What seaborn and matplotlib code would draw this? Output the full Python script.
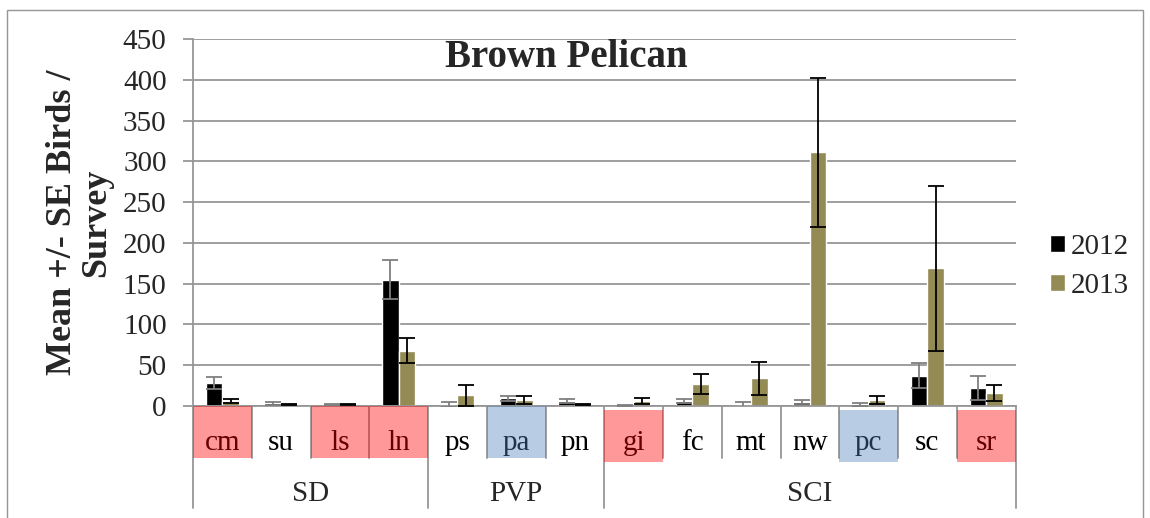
import matplotlib
matplotlib.use("Agg")
import matplotlib.pyplot as plt
import matplotlib.transforms as mtransforms
from matplotlib.patches import Rectangle
import seaborn as sns
import pandas as pd

# ---------------- data ----------------
sites = ['cm', 'su', 'ls', 'ln', 'ps', 'pa', 'pn', 'gi', 'fc', 'mt', 'nw', 'pc', 'sc', 'sr']
groups = ['SD', 'PVP', 'SCI']
group_sizes = [4, 3, 7]
years = ['2012', '2013']
mean_2012 = [28, 3.5, 2, 155, 1.6, 9.5, 6, 0.5, 6, 1.5, 5, 2, 37, 22]
se_2012 = [7, 2, 1, 24, 3, 3, 2, 0.3, 2.5, 3.5, 2, 1.5, 15.5, 15]
mean_2013 = [6, 1.5, 1.5, 68, 13, 7.5, 1.5, 6, 27, 34, 311, 7, 169, 16]
se_2013 = [2, 0.5, 0.5, 15, 13, 5, 0.5, 3.5, 12, 20, 91, 5, 101, 10]
highlight = {'cm': 'red', 'ls': 'red', 'ln': 'red', 'gi': 'red', 'sr': 'red',
             'pa': 'blue', 'pc': 'blue'}
title = 'Brown Pelican'
ylabel = 'Mean +/- SE Birds /\nSurvey'

# ---------------- style ----------------
sns.set_style('white')
plt.rcParams['font.family'] = ['Liberation Serif', 'DejaVu Serif']

BLACK = '#000000'
OLIVE = '#948A54'
GRID = '#969696'
box_colors = {'red': '#FF0000', 'blue': '#4F81BD'}

df = pd.DataFrame({
    'site': sites * 2,
    'year': [years[0]] * len(sites) + [years[1]] * len(sites),
    'mean': mean_2012 + mean_2013,
})

W, H = 1150, 518
fig = plt.figure(figsize=(W / 100, H / 100), dpi=100)
ax = fig.add_axes([193 / W, 1 - 406 / H, (1015.5 - 193) / W, (406 - 39) / H])

sns.barplot(data=df, x='site', y='mean', hue='year', order=sites, hue_order=years,
            palette=[BLACK, OLIVE], saturation=1, width=0.56, errorbar=None,
            ax=ax, zorder=2)

# error bars
for cont, se, ecol in zip(ax.containers, [se_2012, se_2013], ['#7F7F7F', BLACK]):
    xs = [b.get_x() + b.get_width() / 2 for b in cont]
    ys = [b.get_height() for b in cont]
    ax.errorbar(xs, ys, yerr=se, fmt='none', ecolor=ecol, elinewidth=1.3,
                capsize=5.5, capthick=1.3, zorder=3)

ax.set_xlim(-0.5, len(sites) - 0.5)
ax.set_ylim(0, 450)
ax.set_yticks(range(0, 451, 50))
ax.set_xlabel('')
ax.set_ylabel('')
ax.set_xticks([])
ax.yaxis.grid(True, color=GRID, lw=1.3)
ax.set_axisbelow(True)
for s in ['top', 'right']:
    ax.spines[s].set_visible(False)
for s in ['left', 'bottom']:
    ax.spines[s].set_color(GRID)
    ax.spines[s].set_linewidth(1.3)
ax.tick_params(axis='y', direction='out', length=7, width=1.3, color=GRID,
               pad=12, labelsize=21, left=True)

# category / group labels below axis
trans = mtransforms.blended_transform_factory(ax.transData, ax.transAxes)
axh = 406 - 39
for i, s in enumerate(sites):
    ax.text(i, -(450 - 406) / axh, s, transform=trans, ha='center', va='baseline',
            fontsize=21, color='black', clip_on=False, zorder=3)
    if s in highlight:
        dy = 0.0 if i < 7 else -4 / axh
        ax.add_patch(Rectangle((i - 0.5, dy), 1, -52 / axh, transform=trans,
                               facecolor=box_colors[highlight[s]], alpha=0.4,
                               edgecolor='none', clip_on=False, zorder=5))

bounds = [0]
for g in group_sizes:
    bounds.append(bounds[-1] + g)
for b in range(len(sites) + 1):
    depth = (508 - 406) / axh if b in bounds else (458 - 406) / axh
    ax.plot([b - 0.5, b - 0.5], [0, -depth], transform=trans, color=GRID, lw=1.3,
            clip_on=False, zorder=1)
for g, a, b in zip(groups, bounds[:-1], bounds[1:]):
    ax.text((a + b - 1) / 2, -(501 - 406) / axh, g, transform=trans, ha='center',
            va='baseline', fontsize=21, clip_on=False)

# legend
handles, labels = ax.get_legend_handles_labels()
ax.legend(handles, labels, loc='center left', bbox_to_anchor=(1050 / W, 1 - 266.5 / H),
          bbox_transform=fig.transFigure, frameon=False, fontsize=21,
          handlelength=0.52, handleheight=0.52, handletextpad=0.2,
          labelspacing=0.45, borderpad=0, borderaxespad=0)

# title and y label
fig.text(566.5 / W, 1 - 67 / H, title, ha='center', va='baseline',
         fontsize=28, fontweight='bold')
fig.text(79.5 / W, 1 - 222.5 / H, ylabel, ha='center', va='center', rotation=90,
         multialignment='center', fontsize=26, fontweight='bold', linespacing=1.05)

# outer chart border
fig.patches.append(Rectangle((7 / W, -0.1), (1143 - 7) / W, 1 - 10 / H + 0.1,
                             transform=fig.transFigure, fill=False,
                             edgecolor=GRID, lw=1.0))

fig.savefig('out.png', dpi=100)
